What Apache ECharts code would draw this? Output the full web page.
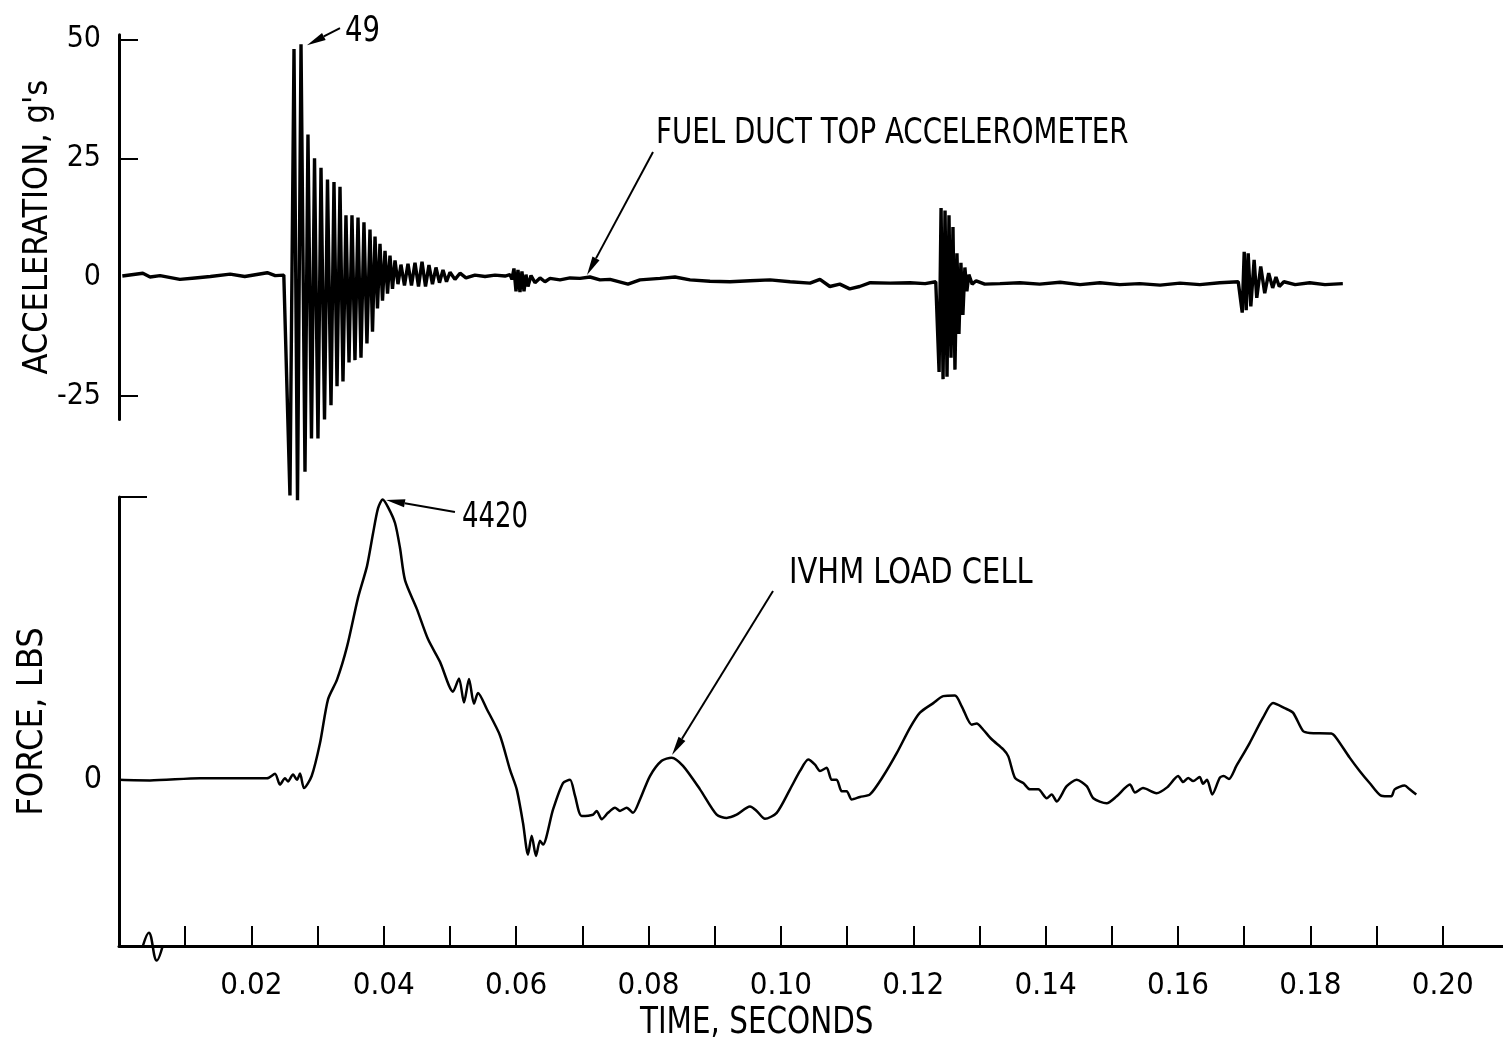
<!DOCTYPE html>
<html>
<head>
<meta charset="utf-8">
<script src="https://cdn.jsdelivr.net/npm/echarts@6/dist/echarts.min.js"></script>
<style>
    html, body { margin: 0; padding: 0; background: #fff; }
    #chart { width: 1503px; height: 1043px; }
</style>
</head>
<body>
<div id="chart"></div>
<script>
// time in seconds, acceleration in g's
var accTime = [0.0005, 0.0036, 0.0047, 0.0062, 0.0092, 0.0115, 0.0138, 0.0168, 0.0190, 0.0224, 0.0236, 0.0249, 0.02515,
    0.02583, 0.02644, 0.02697, 0.02750, 0.02810, 0.02855, 0.02908, 0.02954, 0.03006, 0.03052, 0.03105, 0.03150,
    0.03203, 0.03248, 0.03294, 0.03339, 0.03384, 0.03429, 0.03475, 0.03520, 0.03565, 0.03611, 0.03656, 0.03701,
    0.03746, 0.03792, 0.03830, 0.03868, 0.03905, 0.03943, 0.03981, 0.04019, 0.04057, 0.04094, 0.04132, 0.04170,
    0.04215, 0.04260, 0.04313, 0.04366, 0.04419, 0.04472, 0.04525, 0.04578, 0.04631, 0.04683, 0.04736, 0.04789,
    0.04842, 0.04895, 0.04948, 0.05001, 0.05076, 0.05152, 0.05242, 0.05378, 0.05530, 0.05681, 0.05832, 0.05907,
    0.05937, 0.05967, 0.05998, 0.06028, 0.06058, 0.06088, 0.06119, 0.06149, 0.06179, 0.06225, 0.06285, 0.06361,
    0.06436, 0.06512, 0.06663, 0.06814, 0.06965, 0.07116, 0.07267, 0.07418, 0.0769, 0.07871, 0.08173, 0.0840,
    0.08627, 0.08929, 0.09231, 0.09533, 0.09835, 0.1014, 0.1044, 0.1059, 0.1074, 0.1089, 0.1104, 0.1119, 0.1135,
    0.1165, 0.1195, 0.1218, 0.1234,
    0.1239, 0.1242, 0.1245, 0.1248, 0.1251, 0.1254, 0.1257, 0.1260, 0.1263, 0.1266, 0.1269, 0.1272, 0.1275,
    0.1278, 0.1281, 0.1284, 0.1289, 0.1295,
    0.1308, 0.1331, 0.1361, 0.1391, 0.1422, 0.1452, 0.1482, 0.1512, 0.1542, 0.1573, 0.1603, 0.1633, 0.1663, 0.1691,
    0.1697, 0.1700, 0.1703, 0.1706, 0.1710, 0.1715, 0.1719, 0.1725, 0.1731, 0.1737, 0.1743, 0.1748, 0.1753, 0.1760,
    0.1777, 0.1799, 0.1822, 0.1849];
var accG = [0.2, 0.8, 0, 0.3, -0.5, -0.2, 0.1, 0.6, 0.1, 0.9, 0.3, 0.4, 0,
    -46, 48, -47, 49, -41, 30, -34, 25, -34, 23, -30, 20.5,
    -27, 20, -23, 19, -22, 13, -18, 13, -17.5, 12.5, -17, 11.5,
    -14, 10, -11.5, 8.5, -6.6, 7, -5, 5.5, -3.5, 4.5, -2.5, 3.5,
    -1.5, 2.6, -1.8, 2.8, -1.8, 3, -2, 3.2, -2, 2.5, -1.5, 2,
    -1.2, 1.5, -1, 1, -0.5, 0.8, -0.2, 0.4, 0.1, 0.4, 0.2, 0.5,
    -0.5, 1.8, -3, 1.5, -3.2, 1.2, -3, 0.5, -2, 0.3, -1.2, -0.2,
    -1, -0.3, -0.6, -0.2, -0.3, 0, -0.6, -0.5, -1.5, -0.6, -0.3, 0,
    -0.6, -0.9, -1, -0.8, -0.6, -1, -1.3, -0.5, -2, -1.5, -2.5, -2, -1.2,
    -1.3, -1.2, -1.4, -1,
    -20, 14.5, -21.5, 14, -21, 13, -17, 10.5, -19.5, 5, -12, 3, -8,
    2, -3, 0.5, -1.5, -0.8,
    -1.5, -1.4, -1.2, -1.5, -1.1, -1.6, -1.2, -1.6, -1.4, -1.7, -1.3, -1.6, -1.2, -1,
    -7.5, 5.3, -7, 5, -6.2, 3.6, -4.4, 2.2, -3.4, 0.8, -2.3, 0, -2, -1,
    -1.6, -1.2, -1.6, -1.4];

// time in seconds, load cell force in lbs
var forceTime = [0, 0.00468, 0.01224, 0.02236, 0.02357, 0.02432, 0.02508, 0.02553, 0.02629, 0.02689, 0.02735,
    0.02795, 0.02911, 0.03037, 0.03158, 0.03294, 0.03445, 0.03611, 0.03747, 0.03837, 0.03913, 0.03984, 0.04064,
    0.04170, 0.04245, 0.04321, 0.04498, 0.04668, 0.04850, 0.05046, 0.05137, 0.05212, 0.05288, 0.05363, 0.05424,
    0.05560, 0.05756, 0.05907, 0.06009, 0.06104, 0.06179, 0.06235, 0.06300, 0.06361, 0.06406, 0.06557, 0.06708,
    0.06814, 0.06889, 0.06990, 0.07161, 0.07217, 0.07293, 0.07388, 0.07494, 0.07569, 0.07670, 0.07766, 0.07871,
    0.08022, 0.08199, 0.08350, 0.08521, 0.08778, 0.09030, 0.09181, 0.09332, 0.09533, 0.09634, 0.09760, 0.09937,
    0.10138, 0.10289, 0.10414, 0.10515, 0.10591, 0.10692, 0.10767, 0.10843, 0.10919, 0.10994, 0.11070, 0.11195,
    0.11346, 0.11547, 0.11750, 0.11950, 0.12101, 0.12303, 0.12453, 0.12630, 0.12732, 0.12883, 0.12958, 0.13058,
    0.13185, 0.13360, 0.13436, 0.13537, 0.13662, 0.13763, 0.13889, 0.14016, 0.14091, 0.14167, 0.14318, 0.14469,
    0.14620, 0.14720, 0.14922, 0.15073, 0.15274, 0.15350, 0.15471, 0.15674, 0.15840, 0.16002, 0.16077, 0.16153,
    0.16229, 0.16327, 0.16377, 0.16438, 0.16518, 0.16630, 0.16690, 0.16770, 0.16880, 0.17082, 0.17284, 0.17435,
    0.17611, 0.17737, 0.17888, 0.17989, 0.18315, 0.18391, 0.18593, 0.18744, 0.18895, 0.19071, 0.19222, 0.19273,
    0.19424, 0.19500, 0.19600];
var forceLbs = [0, -10, 25, 25, 95, -75, 25, -25, 85, 0, 100,
    -130, 60, 580, 1270, 1580, 2100, 2870, 3370, 3880, 4280, 4420, 4300,
    4050, 3660, 3150, 2700, 2220, 1860, 1390, 1600, 1220, 1590, 1200, 1370,
    1110, 700, 160, -150, -680, -1180, -880, -1200, -960, -1020, -470, -50,
    0, -250, -570, -550, -490, -620, -520, -440, -490, -440, -520, -310,
    60, 300, 350, 220, -150, -550, -600, -550, -420, -490, -615, -520,
    -150, 140, 320, 240, 140, 190, 0, 0, -180, -180, -310, -270,
    -230, 60, 420, 820, 1060, 1210, 1320, 1330, 1160, 870, 890, 790,
    640, 480, 370, 30, -50, -150, -150, -290, -230, -340, -100, 0,
    -100, -290, -370, -260, -75, -200, -130, -210, -115, 60, -35, 30,
    -20, 45, -60, 0, -230, 30, 60, 15, 215, 580, 980, 1210,
    1130, 1060, 770, 740, 730, 660, 350, 140, -50, -250, -260, -150,
    -90, -150, -230];

// small timing mark on the time axis
var markTime = [0.0036, 0.0045, 0.0057, 0.0066];
var markLbs = [-2620, -2410, -2850, -2620];

var timeTicks = [0.01, 0.02, 0.03, 0.04, 0.05, 0.06, 0.07, 0.08, 0.09, 0.10,
    0.11, 0.12, 0.13, 0.14, 0.15, 0.16, 0.17, 0.18, 0.19, 0.20];
var timeLabels = [0.02, 0.04, 0.06, 0.08, 0.10, 0.12, 0.14, 0.16, 0.18, 0.20];
var accTicks = [50, 25, -25];
var accLabels = [50, 25, 0, -25];

// callouts: [from, to] in data units of the panel they point into
var accArrows = [
    [[0.08068, 26.3], [0.07071, 0.4]],
    [[0.03339, 52.4], [0.02840, 48.8]]
];
var forceArrows = [
    [[0.05076, 4223], [0.04034, 4413]],
    [[0.09881, 2978], [0.08355, 392]]
];

var FONT = "'Liberation Sans Narrow', 'DejaVu Sans Condensed', sans-serif";
var black = '#000';

function zip(xs, ys) {
    var out = [];
    for (var i = 0; i < xs.length; i++) {
        out.push([xs[i], ys[i]]);
    }
    return out;
}

var dom = echarts.init(document.getElementById('chart'));
var option = {
    backgroundColor: '#fff',
    animation: false,
    grid: [
        {left: 119, width: 1384, top: 34.75, height: 384.75},
        {left: 119, width: 1384, top: 497, height: 449}
    ],
    xAxis: [{
        gridIndex: 0,
        type: 'value',
        min: 0,
        max: 0.2091,
        show: false
    }, {
        gridIndex: 1,
        type: 'value',
        min: 0,
        max: 0.2091,
        axisLine: {onZero: false, lineStyle: {color: black, width: 3}},
        axisTick: {inside: true, length: 20, customValues: timeTicks, lineStyle: {color: black, width: 2}},
        axisLabel: {
            customValues: timeLabels,
            margin: 24,
            color: black,
            fontSize: 31,
            fontFamily: FONT,
            formatter: function (v) { return v.toFixed(2); }
        },
        splitLine: {show: false}
    }],
    yAxis: [{
        gridIndex: 0,
        type: 'value',
        min: -30,
        max: 51,
        name: "ACCELERATION, g's",
        nameLocation: 'middle',
        nameRotate: 90,
        nameGap: 64,
        nameMoveOverlap: false,
        nameTextStyle: {color: black, fontSize: 34, fontFamily: FONT},
        axisLine: {show: true, onZero: false, lineStyle: {color: black, width: 3}},
        axisTick: {show: true, inside: true, length: 19, customValues: accTicks, lineStyle: {color: black, width: 2}},
        axisLabel: {customValues: accLabels, margin: 18, color: black, fontSize: 30, fontFamily: FONT},
        splitLine: {show: false}
    }, {
        gridIndex: 1,
        type: 'value',
        min: -2620,
        max: 4460,
        name: 'FORCE, LBS',
        nameLocation: 'middle',
        nameRotate: 90,
        nameGap: 68,
        nameMoveOverlap: false,
        nameTextStyle: {color: black, fontSize: 36, fontFamily: FONT},
        axisLine: {show: true, onZero: false, lineStyle: {color: black, width: 3}},
        axisTick: {show: true, inside: true, length: 28, customValues: [4460], lineStyle: {color: black, width: 2}},
        axisLabel: {customValues: [0], margin: 17, color: black, fontSize: 32, fontFamily: FONT},
        splitLine: {show: false}
    }],
    series: [{
        name: 'FUEL DUCT TOP ACCELEROMETER',
        type: 'line',
        xAxisIndex: 0,
        yAxisIndex: 0,
        data: zip(accTime, accG),
        showSymbol: false,
        clip: false,
        lineStyle: {color: black, width: 3.4}
    }, {
        name: 'IVHM LOAD CELL',
        type: 'line',
        xAxisIndex: 1,
        yAxisIndex: 1,
        data: zip(forceTime, forceLbs),
        showSymbol: false,
        smooth: 0.25,
        clip: false,
        lineStyle: {color: black, width: 2.5}
    }, {
        name: 'mark',
        type: 'line',
        xAxisIndex: 1,
        yAxisIndex: 1,
        data: zip(markTime, markLbs),
        showSymbol: false,
        smooth: 0.4,
        clip: false,
        lineStyle: {color: black, width: 2.5}
    }]
};
dom.setOption(option);

// arrow = thin shaft plus a long narrow filled head, placed through the axes
function arrow(from, to, finder) {
    var p1 = dom.convertToPixel(finder, from);
    var p2 = dom.convertToPixel(finder, to);
    var dx = p2[0] - p1[0], dy = p2[1] - p1[1];
    var len = Math.sqrt(dx * dx + dy * dy);
    var ux = dx / len, uy = dy / len;
    var headL = 19, headW = 4;
    var bx = p2[0] - ux * headL, by = p2[1] - uy * headL;
    return [{
        type: 'line',
        shape: {x1: p1[0], y1: p1[1], x2: bx, y2: by},
        style: {stroke: black, lineWidth: 2},
        silent: true
    }, {
        type: 'polygon',
        shape: {points: [[p2[0], p2[1]], [bx - uy * headW, by + ux * headW], [bx + uy * headW, by - ux * headW]]},
        style: {fill: black},
        silent: true
    }];
}

function label(text, left, top, size, sx) {
    return {
        type: 'text',
        x: left,
        y: top,
        scaleX: sx,
        style: {text: text, font: size + 'px ' + FONT, fill: black, textVerticalAlign: 'top'},
        silent: true
    };
}

var graphics = [];
accArrows.forEach(function (a) {
    graphics = graphics.concat(arrow(a[0], a[1], {xAxisIndex: 0, yAxisIndex: 0}));
});
forceArrows.forEach(function (a) {
    graphics = graphics.concat(arrow(a[0], a[1], {xAxisIndex: 1, yAxisIndex: 1}));
});
graphics.push(label('FUEL DUCT TOP ACCELEROMETER', 656, 116, 35, 0.88));
graphics.push(label('49', 345, 14, 36, 0.85));
graphics.push(label('4420', 462, 500, 36, 0.8));
graphics.push(label('IVHM LOAD CELL', 789, 556, 35, 0.92));
graphics.push(label('TIME, SECONDS', 640, 1004, 38, 0.86));
dom.setOption({graphic: graphics});
</script>
</body>
</html>
